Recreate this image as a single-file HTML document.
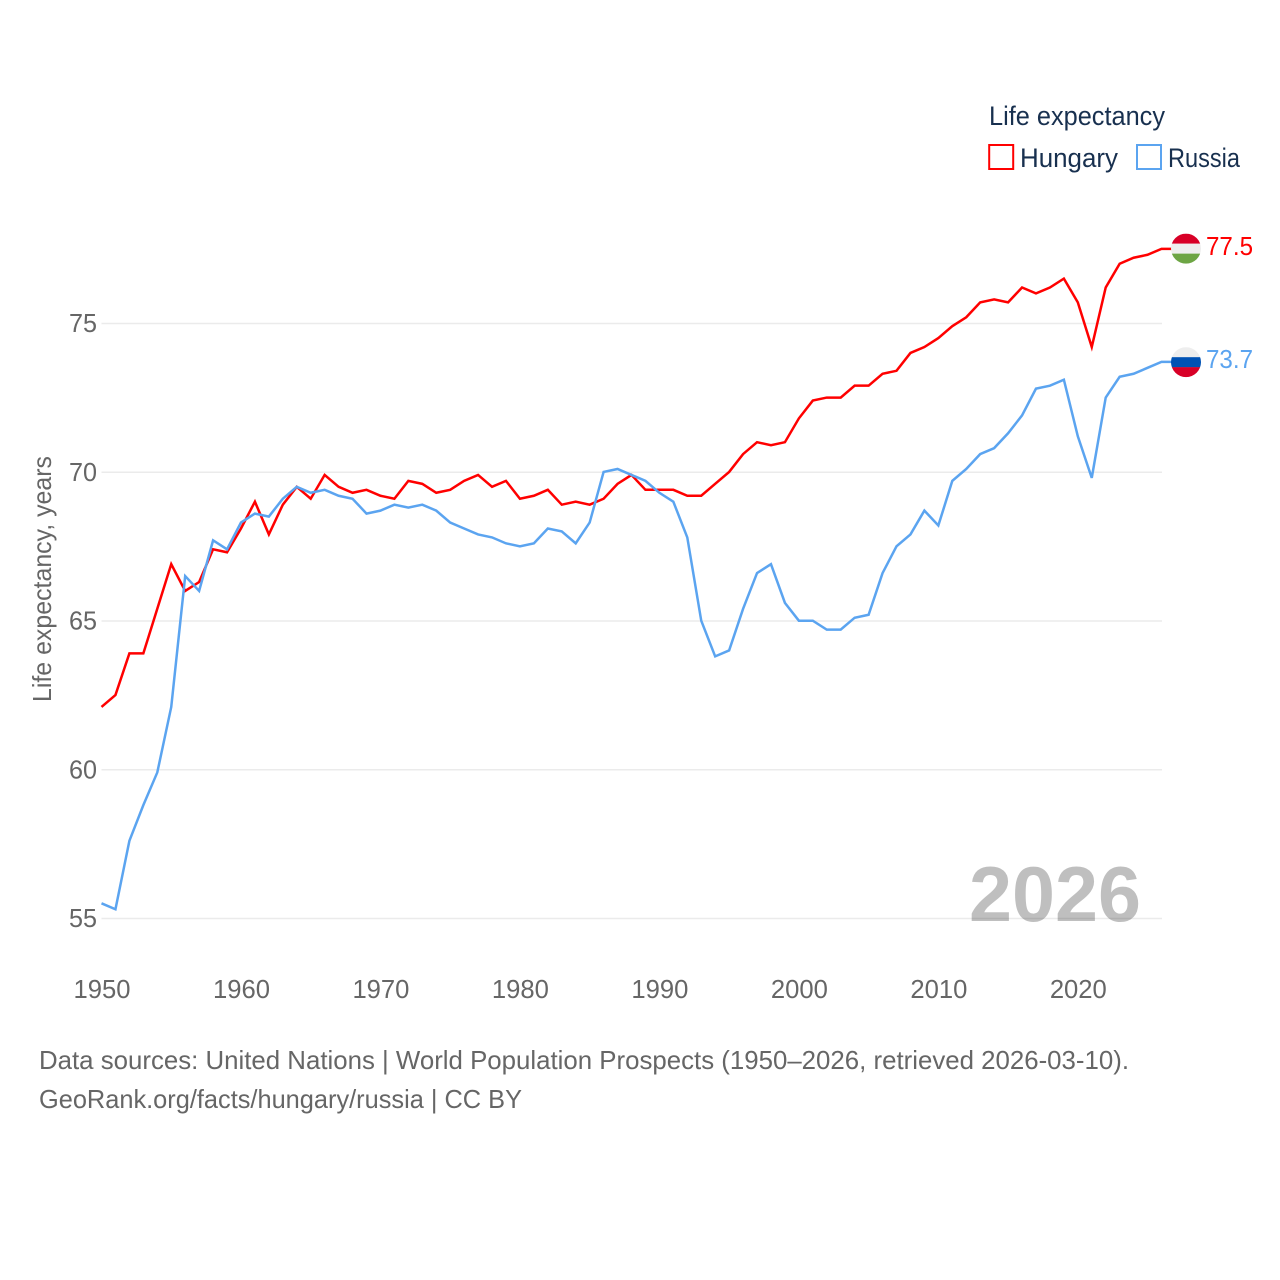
<!DOCTYPE html>
<html lang="en">
<head>
<meta charset="utf-8">
<title>Life expectancy: Hungary and Russia</title>
<style>
html,body{margin:0;padding:0;background:#fff}
svg{display:block}
text{font-family:"Liberation Sans",sans-serif}
</style>
</head>
<body>
<svg id="chart" width="1280" height="1280" viewBox="0 0 1280 1280" xmlns="http://www.w3.org/2000/svg">
<rect x="0" y="0" width="1280" height="1280" fill="#ffffff"/>
<defs>
<clipPath id="flag-clip"><circle cx="0" cy="0" r="15"/></clipPath>
</defs>
<g id="grid"></g>
<g id="y-ticks"></g>
<g id="x-ticks"></g>
<text transform="translate(51 579) rotate(-90)" text-anchor="middle" font-size="26" fill="#666666" textLength="246" lengthAdjust="spacingAndGlyphs">Life expectancy, years</text>
<text x="969" y="921" font-size="78" font-weight="700" fill="#000000" fill-opacity="0.25" textLength="172" lengthAdjust="spacingAndGlyphs">2026</text>
<g id="series"></g>
<g id="end-markers"></g>
<g>
<text x="989" y="125" font-size="27" fill="#18304f" textLength="176" lengthAdjust="spacingAndGlyphs">Life expectancy</text>
<rect x="989.2" y="145" width="24" height="24" fill="none" stroke="#ff0000" stroke-width="2"/>
<text x="1020" y="167" font-size="27" fill="#18304f" textLength="98" lengthAdjust="spacingAndGlyphs">Hungary</text>
<rect x="1137" y="145" width="24" height="24" fill="none" stroke="#5ba4f0" stroke-width="2"/>
<text x="1168" y="167" font-size="27" fill="#18304f" textLength="72" lengthAdjust="spacingAndGlyphs">Russia</text>
</g>
<g>
<text x="39" y="1069" font-size="26" fill="#666666" textLength="1090" lengthAdjust="spacingAndGlyphs">Data sources: United Nations | World Population Prospects (1950–2026, retrieved 2026-03-10).</text>
<text x="39" y="1108" font-size="26" fill="#666666" textLength="483" lengthAdjust="spacingAndGlyphs">GeoRank.org/facts/hungary/russia | CC BY</text>
</g>
</svg>
<script>
const startYear = 1950;
const hungaryValues = [62.1,62.5,63.9,63.9,65.4,66.9,66.0,66.3,67.4,67.3,68.1,69.0,67.9,68.9,69.5,69.1,69.9,69.5,69.3,69.4,69.2,69.1,69.7,69.6,69.3,69.4,69.7,69.9,69.5,69.7,69.1,69.2,69.4,68.9,69.0,68.9,69.1,69.6,69.9,69.4,69.4,69.4,69.2,69.2,69.6,70.0,70.6,71.0,70.9,71.0,71.8,72.4,72.5,72.5,72.9,72.9,73.3,73.4,74.0,74.2,74.5,74.9,75.2,75.7,75.8,75.7,76.2,76.0,76.2,76.5,75.7,74.2,76.2,77.0,77.2,77.3,77.5];
const russiaValues = [55.5,55.3,57.6,58.8,59.9,62.1,66.5,66.0,67.7,67.4,68.3,68.6,68.5,69.1,69.5,69.3,69.4,69.2,69.1,68.6,68.7,68.9,68.8,68.9,68.7,68.3,68.1,67.9,67.8,67.6,67.5,67.6,68.1,68.0,67.6,68.3,70.0,70.1,69.9,69.7,69.3,69.0,67.8,65.0,63.8,64.0,65.4,66.6,66.9,65.6,65.0,65.0,64.7,64.7,65.1,65.2,66.6,67.5,67.9,68.7,68.2,69.7,70.1,70.6,70.8,71.3,71.9,72.8,72.9,73.1,71.2,69.8,72.5,73.2,73.3,73.5,73.7];
const yTickValues = [55,60,65,70,75];
const xTickYears = [1950,1960,1970,1980,1990,2000,2010,2020];
const printedEndValues = ["77.5","73.7"];

const NS = 'http://www.w3.org/2000/svg';
function xScale(year){ return 101.5 + (year - 1950) * (1060 / 76); }
function yScale(value){ return 918.5 - (value - 55) * 29.75; }
function make(tag, attrs, parent){
  const el = document.createElementNS(NS, tag);
  for (const k in attrs) el.setAttribute(k, attrs[k]);
  parent.appendChild(el);
  return el;
}
const gridGroup = document.getElementById('grid');
const yGroup = document.getElementById('y-ticks');
const xGroup = document.getElementById('x-ticks');
const seriesGroup = document.getElementById('series');
const markerGroup = document.getElementById('end-markers');

yTickValues.forEach(function(v){
  const line = make('line', {x1:101.5, x2:1162, y1:yScale(v), y2:yScale(v), stroke:'#ebebeb', 'stroke-width':1.5}, gridGroup);
  
  
  const label = make('text', {x:97, y:yScale(v)+8.5, 'text-anchor':'end', 'font-size':26, fill:'#666666', textLength:28, lengthAdjust:'spacingAndGlyphs'}, yGroup);
  label.textContent = String(v);
  
  
});
xTickYears.forEach(function(y){
  const label = make('text', {x:xScale(y)+0.5, y:998, 'text-anchor':'middle', 'font-size':26, fill:'#666666', textLength:57, lengthAdjust:'spacingAndGlyphs'}, xGroup);
  label.textContent = String(y);
  
  
});
function linePath(values){
  let d = '';
  values.forEach(function(v, i){
    d += (i ? 'L' : 'M') + xScale(startYear + i).toFixed(2) + ' ' + (yScale(v) - 0.3).toFixed(2);
  });
  const last = values[values.length - 1];
  return d + 'L1172 ' + (yScale(last) - 0.3).toFixed(2);
}
const hungaryLine = make('path', {d:linePath(hungaryValues), fill:'none', stroke:'#ff0000', 'stroke-width':2.5, 'stroke-linejoin':'miter'}, seriesGroup);


const russiaLine = make('path', {d:linePath(russiaValues), fill:'none', stroke:'#5ba4f0', 'stroke-width':2.5, 'stroke-linejoin':'miter'}, seriesGroup);



function stripes(parent, colors){
  const clip = make('g', {'clip-path':'url(#flag-clip)'}, parent);
  colors.forEach(function(c, i){
    make('rect', {x:-15, y:-15 + i * 10, width:30, height:10.2, fill:c}, clip);
  });
}
const hungaryLast = hungaryValues[hungaryValues.length - 1];
const russiaLast = russiaValues[russiaValues.length - 1];
const hungaryFlag = make('g', {transform:'translate(1186 ' + (yScale(hungaryLast) - 0.5) + ')'}, markerGroup);


stripes(hungaryFlag, ['#d80027','#eeeeee','#6da544']);
const russiaFlag = make('g', {transform:'translate(1186 ' + yScale(russiaLast) + ')'}, markerGroup);


stripes(russiaFlag, ['#eeeeee','#0052b4','#d80027']);
const hungaryLabel = make('text', {x:1206, y:yScale(hungaryLast)+6, 'font-size':26, fill:'#ff0000', textLength:47, lengthAdjust:'spacingAndGlyphs'}, markerGroup);
hungaryLabel.textContent = printedEndValues[0];


const russiaLabel = make('text', {x:1206, y:yScale(russiaLast)+6, 'font-size':26, fill:'#5ba4f0', textLength:47, lengthAdjust:'spacingAndGlyphs'}, markerGroup);
russiaLabel.textContent = printedEndValues[1];


</script>
</body>
</html>
